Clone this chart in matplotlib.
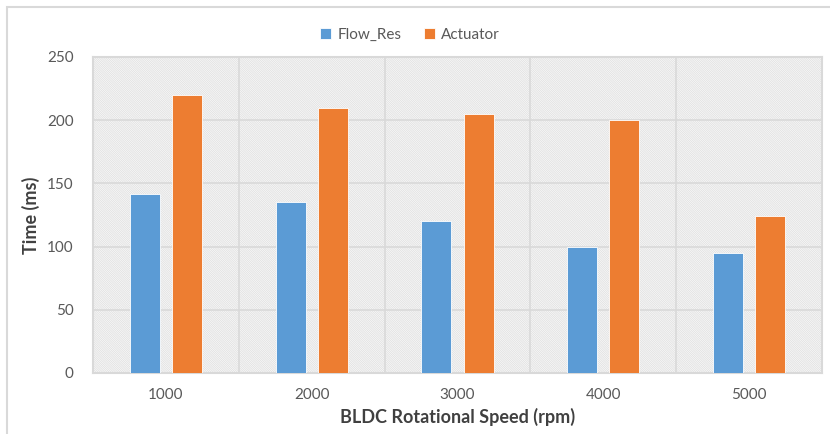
import matplotlib.pyplot as plt
import matplotlib.patches as mpatches
import numpy as np

plt.rcParams['font.family'] = ['Lato', 'DejaVu Sans']
plt.rcParams['hatch.color'] = '#dcdcdc'
plt.rcParams['hatch.linewidth'] = 0.5

# data
speeds = ['1000', '2000', '3000', '4000', '5000']
flow_res = [142, 135, 120, 100, 95]
actuator = [220, 210, 205, 200, 124]

blue = '#5b9bd5'
orange = '#ed7d31'
grid_col = '#d9d9d9'
text_col = '#595959'

fig = plt.figure(figsize=(8.3, 4.34), dpi=100)
ax = fig.add_axes([93/830, 1-373/434, (822-93)/830, (373-57)/434])

# outer chart frame (only left/top visible, image is cropped)
fig.patches.append(mpatches.Rectangle((7/830, -0.2), 1.2, 1.2 - 7/434,
                                      transform=fig.transFigure, fill=False,
                                      edgecolor='#d9d9d9', linewidth=1.5))

# hatched plot background
ax.add_patch(mpatches.Rectangle((0, 0), 1, 1, transform=ax.transAxes,
                                facecolor='white', edgecolor='#dcdcdc',
                                hatch='\\' * 18, linewidth=0, zorder=0))

x = np.arange(len(speeds))
w = 0.205
off = 0.145
ax.bar(x - off, flow_res, w, color=blue, edgecolor='white', linewidth=0.6,
       label='Flow_Res', zorder=3)
ax.bar(x + off, actuator, w, color=orange, edgecolor='white', linewidth=0.6,
       label='Actuator', zorder=3)

ax.set_xlim(-0.5, len(speeds) - 0.5)
ax.set_ylim(0, 250)
ax.set_yticks(np.arange(0, 251, 50))
ax.set_xticks(x)
ax.set_xticklabels(speeds)

# grid: horizontal at y ticks, vertical at category boundaries
for yv in np.arange(50, 251, 50):
    ax.axhline(yv, color=grid_col, linewidth=1.2, zorder=1)
for xv in np.arange(0.5, len(speeds) - 0.5, 1):
    ax.axvline(xv, color=grid_col, linewidth=1.2, zorder=1)

for s in ax.spines.values():
    s.set_color(grid_col)
    s.set_linewidth(1.5)

ax.tick_params(length=0, labelsize=11, labelcolor=text_col)
ax.tick_params(axis='x', pad=11)
ax.tick_params(axis='y', pad=14)

ax.set_ylabel('Time (ms)', fontsize=13, fontweight='bold', color='#404040', labelpad=5)
ax.set_xlabel('BLDC Rotational Speed (rpm)', fontsize=13, fontweight='bold',
              color='#404040', labelpad=4)

leg = fig.legend(loc='center', bbox_to_anchor=(410/830, 1-35/434), ncol=2,
                 frameon=False, fontsize=11, handlelength=0.7, handleheight=0.7,
                 handletextpad=0.4, columnspacing=1.5)
for t in leg.get_texts():
    t.set_color(text_col)

fig.savefig('out.png', dpi=100)
